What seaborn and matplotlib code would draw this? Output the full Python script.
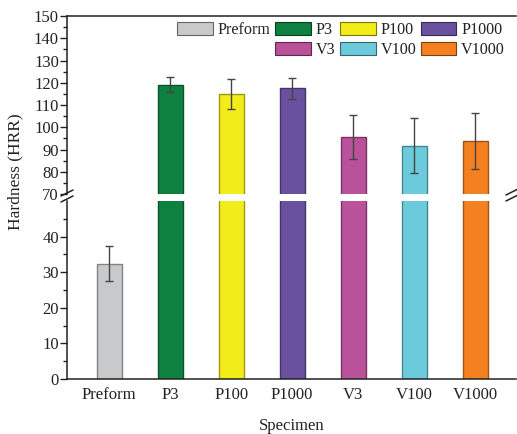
import matplotlib
matplotlib.use("Agg")
import matplotlib.pyplot as plt
import matplotlib.colors as mcolors
from matplotlib.patches import Patch
from matplotlib.lines import Line2D
import seaborn as sns
import numpy as np
import pandas as pd

categories = ["Preform", "P3", "P100", "P1000", "V3", "V100", "V1000"]
hardness = [32.4, 119.1, 114.8, 117.6, 95.7, 91.8, 93.8]
errors = [4.8, 3.3, 6.7, 4.7, 10.0, 12.3, 12.5]
colors = ["#C8C9CB", "#0E8140", "#F2EC19", "#6A519F", "#B9519B", "#6BCBDB", "#F58020"]
upper_ticks = [70, 80, 90, 100, 110, 120, 130, 140, 150]
lower_ticks = [0, 10, 20, 30, 40]

sns.set_theme(style="white")
plt.rcParams["font.family"] = ["Liberation Serif", "DejaVu Serif"]
plt.rcParams["font.size"] = 12

df = pd.DataFrame({"Specimen": categories, "Hardness": hardness})
palette = dict(zip(categories, colors))
txt = "#222222"

fig = plt.figure(figsize=(5.17, 4.34), dpi=100)
L, R = 0.130, 0.998
ax_top = fig.add_axes([L, 0.553, R - L, 0.410])
ax_bot = fig.add_axes([L, 0.127, R - L, 0.410])

def darker(c, f=0.6):
    r, g, b = mcolors.to_rgb(c)
    return (r * f, g * f, b * f)

for ax in (ax_top, ax_bot):
    sns.barplot(data=df, x="Specimen", y="Hardness", hue="Specimen", palette=palette,
                dodge=False, width=0.41, errorbar=None, legend=False, ax=ax,
                linewidth=1.0, saturation=1)
    for patch, c in zip(ax.patches, colors):
        patch.set_edgecolor(darker(c, 0.65))
    ax.errorbar(np.arange(len(categories)), hardness, yerr=errors, fmt="none",
                ecolor="#444444", elinewidth=1.0, capsize=2.6, capthick=1.0)
    ax.set_xlim(-0.69, 6.67)
    ax.set_ylabel("")
    ax.spines["right"].set_visible(False)
    for s in ax.spines.values():
        s.set_color(txt)
        s.set_linewidth(1.1)
    ax.tick_params(axis="y", which="major", direction="out", length=5, width=1,
                   color=txt, labelcolor=txt, labelsize=12, pad=1, left=True)
    ax.tick_params(axis="y", which="minor", direction="out", length=3, width=1,
                   color=txt, left=True)

ax_top.set_ylim(70, 150)
ax_top.set_yticks(upper_ticks)
ax_top.set_yticks(np.arange(75, 150, 10), minor=True)
ax_top.spines["bottom"].set_visible(False)
ax_top.set_xticks([])
ax_top.set_xlabel("")

ax_bot.set_ylim(0, 50)
ax_bot.set_yticks(lower_ticks)
ax_bot.set_yticks(np.arange(5, 50, 10), minor=True)
ax_bot.spines["top"].set_visible(False)
ax_bot.tick_params(axis="x", length=0, labelcolor=txt, labelsize=12, pad=6)
ax_bot.set_xlabel("Specimen", color=txt, fontsize=12, labelpad=11)

fig.text(0.030, 0.604, "Hardness (HRR)", rotation=90, va="center", ha="center",
         color=txt, fontsize=12.5)

# break marks
for (xc, yc) in [(67 / 517, 1 - 193 / 434), (67 / 517, 1 - 199 / 434),
                 (512 / 517, 1 - 192 / 434), (512 / 517, 1 - 198 / 434)]:
    fig.add_artist(Line2D([xc - 6 / 517, xc + 6 / 517], [yc - 3 / 434, yc + 3 / 434],
                          transform=fig.transFigure, color=txt, lw=1.1))

# legend: row1 Preform P3 P100 P1000 ; row2 blank V3 V100 V1000
handles = [Patch(facecolor=c, edgecolor=darker(c, 0.5), linewidth=0.8) for c in colors]
blank = Patch(facecolor="none", edgecolor="none")
h = [handles[0], blank, handles[1], handles[4], handles[2], handles[5], handles[3], handles[6]]
lab = [categories[0], "", categories[1], categories[4], categories[2], categories[5],
       categories[3], categories[6]]
leg = ax_top.legend(h, lab, loc="upper right", bbox_to_anchor=(0.997, 1.02), ncol=4,
                    frameon=False, fontsize=11.6, handlelength=2.2, handleheight=0.85,
                    handletextpad=0.3, columnspacing=0.3, labelspacing=0.25,
                    borderaxespad=0.2)
for t in leg.get_texts():
    t.set_color(txt)

fig.savefig("out.png", dpi=100)
